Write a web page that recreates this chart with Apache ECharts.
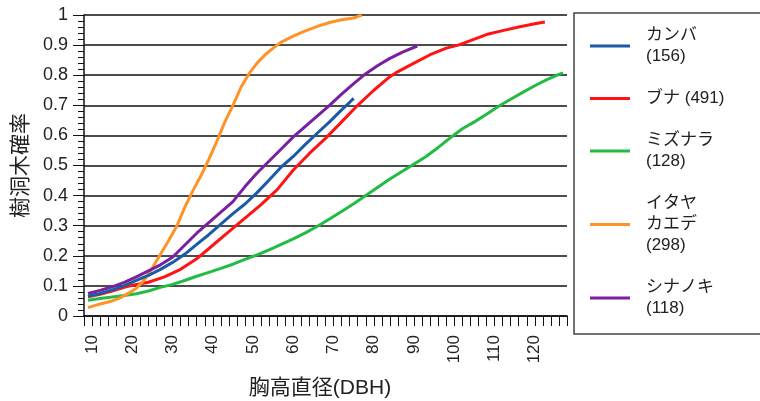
<!DOCTYPE html>
<html>
<head>
<meta charset="utf-8">
<script src="https://cdn.jsdelivr.net/npm/echarts@6/dist/echarts.min.js"></script>
<style>
  html, body { margin: 0; padding: 0; background: #ffffff; }
  #chart { width: 760px; height: 401px; }
</style>
</head>
<body>
<div id="chart"></div>
<script>
// 樹種ごとの胸高直径(DBH)と樹洞木確率
const legendLabels = ['カンバ\n(156)', 'ブナ (491)', 'ミズナラ\n(128)', 'イタヤ\nカエデ\n(298)', 'シナノキ\n(118)'];

const kanbaDbh  = [9, 12, 15, 18, 21, 24, 27, 30, 33, 36, 39, 42, 45, 48, 51, 54, 57, 60, 63, 66, 69, 72, 74, 75];
const kanbaProb = [0.066, 0.075, 0.087, 0.101, 0.118, 0.135, 0.155, 0.178, 0.205, 0.238, 0.27, 0.305, 0.34, 0.372, 0.41, 0.452, 0.495, 0.53, 0.57, 0.608, 0.645, 0.685, 0.71, 0.723];

const bunaDbh  = [9, 12, 15, 18, 20, 24, 28, 32, 36, 40, 44, 48, 52, 56, 60, 64, 68, 72, 76, 80, 84, 86, 88, 90, 94, 98, 101, 104, 108, 112, 116, 120, 122.5];
const bunaProb = [0.064, 0.072, 0.083, 0.095, 0.102, 0.112, 0.13, 0.155, 0.19, 0.235, 0.28, 0.325, 0.37, 0.42, 0.485, 0.54, 0.59, 0.645, 0.70, 0.75, 0.795, 0.812, 0.826, 0.84, 0.868, 0.89, 0.90, 0.915, 0.935, 0.948, 0.96, 0.971, 0.977];

const mizunaraDbh  = [9, 12, 15, 18, 21, 24, 27, 30, 33, 36, 39, 42, 45, 48, 51, 54, 57, 60, 63, 66, 69, 72, 75, 78, 81, 84, 87, 90, 93, 96, 99, 102, 105, 108, 111, 114, 117, 120, 123, 126, 127];
const mizunaraProb = [0.052, 0.058, 0.063, 0.068, 0.074, 0.083, 0.095, 0.105, 0.118, 0.132, 0.145, 0.158, 0.172, 0.188, 0.203, 0.22, 0.238, 0.256, 0.276, 0.298, 0.322, 0.347, 0.373, 0.40, 0.428, 0.455, 0.48, 0.505, 0.53, 0.56, 0.592, 0.622, 0.645, 0.67, 0.697, 0.72, 0.743, 0.765, 0.785, 0.803, 0.808];

const itayaDbh  = [9, 11, 13, 15, 17, 19, 21, 23, 25, 27, 29, 31, 33, 35, 37, 39, 41, 43, 45, 47, 49, 51, 53, 55, 57, 60, 63, 66, 69, 72, 75, 77];
const itayaProb = [0.028, 0.036, 0.043, 0.05, 0.06, 0.075, 0.092, 0.12, 0.16, 0.205, 0.25, 0.297, 0.36, 0.415, 0.465, 0.52, 0.58, 0.645, 0.70, 0.76, 0.805, 0.84, 0.868, 0.89, 0.91, 0.93, 0.947, 0.962, 0.975, 0.984, 0.99, 1.0];

const shinanokiDbh  = [9, 12, 15, 18, 21, 24, 27, 30, 33, 36, 39, 42, 45, 48, 51, 54, 57, 60, 63, 66, 69, 72, 75, 78, 81, 84, 87, 90.8];
const shinanokiProb = [0.075, 0.085, 0.097, 0.112, 0.13, 0.15, 0.17, 0.195, 0.235, 0.275, 0.31, 0.345, 0.38, 0.43, 0.475, 0.515, 0.555, 0.595, 0.63, 0.665, 0.70, 0.737, 0.772, 0.805, 0.832, 0.856, 0.876, 0.897];

const xLabelValues = [10, 20, 30, 40, 50, 60, 70, 80, 90, 100, 110, 120];
const xTickValues = [];
for (let v = 8; v <= 128; v += 2) xTickValues.push(v);

const lineColors = ['#1a5ba6', '#ff1414', '#22bb44', '#ff9326', '#7a1fa0'];
// ブナは他の線の下に描く
const lineZ = [3, 1, 2, 2, 2];
const FONT = '"Liberation Sans", "Noto Sans CJK JP", sans-serif';

function pairs(xs, ys) { return xs.map((x, i) => [x, ys[i]]); }

const seriesData = [
  pairs(kanbaDbh, kanbaProb),
  pairs(bunaDbh, bunaProb),
  pairs(mizunaraDbh, mizunaraProb),
  pairs(itayaDbh, itayaProb),
  pairs(shinanokiDbh, shinanokiProb)
];

const chart = echarts.init(document.getElementById('chart'), null, { renderer: 'canvas' });

chart.setOption({
  animation: false,
  backgroundColor: '#ffffff',
  grid: { left: 84, right: 193, top: 15, bottom: 85, containLabel: false, outerBoundsMode: 'none' },
  legend: {
    orient: 'vertical',
    left: 574,
    top: 13,
    padding: [12, 38, 15, 16],
    icon: 'rect',
    itemWidth: 40,
    itemHeight: 3,
    itemGap: 21,
    borderColor: '#444',
    borderWidth: 1.5,
    data: legendLabels,
    textStyle: {
      fontFamily: FONT,
      fontSize: 17,
      color: '#222',
      lineHeight: 21,
      padding: [0, 0, 0, 11]
    }
  },
  xAxis: {
    type: 'value',
    min: 8,
    max: 128,
    name: '胸高直径(DBH)',
    nameLocation: 'middle',
    nameGap: 62,
    nameTextStyle: { fontFamily: FONT, fontSize: 21, color: '#222', padding: [0, 11, 0, 0] },
    axisLine: { show: true, onZero: false, lineStyle: { color: '#111', width: 1.5 } },
    axisTick: { show: true, length: 10, customValues: xTickValues, lineStyle: { color: '#111', width: 1 } },
    axisLabel: {
      customValues: xLabelValues,
      rotate: 90,
      margin: 19,
      fontFamily: FONT,
      fontSize: 17,
      color: '#222'
    },
    splitLine: { show: false }
  },
  yAxis: {
    type: 'value',
    min: 0,
    max: 1,
    interval: 0.1,
    name: '樹洞木確率',
    nameLocation: 'middle',
    nameGap: 48,
    nameTextStyle: { fontFamily: FONT, fontSize: 21, color: '#222' },
    axisLine: { show: true, lineStyle: { color: '#111', width: 1.5 } },
    axisTick: { show: true, length: 11, lineStyle: { color: '#111', width: 1 } },
    minorTick: { show: true, splitNumber: 5, length: 6, lineStyle: { color: '#111', width: 1 } },
    axisLabel: { margin: 16, fontFamily: FONT, fontSize: 18, color: '#222' },
    splitLine: { show: true, lineStyle: { color: '#111', width: 1.5 } }
  },
  series: seriesData.map((d, i) => ({
    name: legendLabels[i],
    type: 'line',
    data: d,
    z: lineZ[i],
    symbol: 'none',
    showSymbol: false,
    smooth: false,
    color: lineColors[i],
    lineStyle: { width: 3, color: lineColors[i] }
  }))
});
</script>
</body>
</html>
